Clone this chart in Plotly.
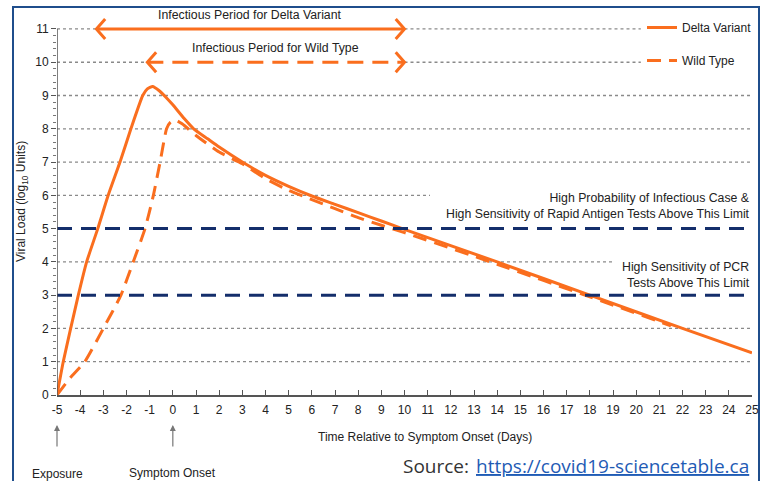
import plotly.graph_objects as go

# ---------------- data ----------------
delta_days = [-5, -4.73, -4.41, -4.08, -3.72, -3.24, -2.79, -2.28, -1.81, -1.30, -1.1, -0.87,
              -0.6, -0.3, 0, 0.5, 0.9, 1.5, 2, 3, 4, 5, 6, 7, 8, 9, 9.9, 14, 18, 22, 25]
delta_load = [0, 1, 2, 3, 4, 5, 6, 7, 8, 9, 9.2, 9.27,
              9.15, 8.95, 8.72, 8.3, 8.0, 7.7, 7.45, 7.0, 6.6, 6.27, 5.98, 5.73, 5.48, 5.23, 5.0,
              4.0, 3.0, 2.0, 1.27]

wild_days = [-5, -4.44, -3.8, -3.0, -2.24, -1.71, -1.2, -0.84, -0.55, -0.27, -0.1, 0.09, 0.4,
             1, 2, 3, 4, 5, 6, 7, 8, 9, 10, 14, 18, 21.5]
wild_load = [0, 0.51, 1, 2, 3, 4, 5, 6, 7, 8, 8.2, 8.27, 8.15,
             7.8, 7.3, 6.95, 6.5, 6.15, 5.87, 5.6, 5.33, 5.1, 4.88, 3.93, 2.95, 2.08]

delta_period = [-3.3, 10]   # infectious period (days), drawn at level 11
wild_period = [-1.1, 10]    # infectious period (days), drawn at level 10
period_levels = [11, 10]

thresholds = [5, 3]
threshold_labels = ["High Probability of Infectious Case &<br>High Sensitivity of Rapid Antigen Tests Above This Limit",
                    "High Sensitivity of PCR<br>Tests Above This Limit"]

x_ticks = list(range(-5, 26))
y_ticks = list(range(0, 12))

# ---------------- style ----------------
ORANGE = "#FA6E1E"
NAVY = "#142E6B"
GRID = "#8A8A8A"
AXIS = "#555555"
TXT = "#222222"
FONT = "Liberation Sans, Arial, sans-serif"
FS = 12.3

W, H = 767, 481
ML, MR, MT, MB = 57, 15, 9, 86
PW, PH = W - ML - MR, H - MT - MB


def px_x(p):
    return (p - ML) / PW


def px_y(p):
    return (H - MB - p) / PH


fig = go.Figure()

fig.add_trace(go.Scatter(x=delta_days, y=delta_load, mode="lines", name="Delta Variant",
                         line=dict(color=ORANGE, width=3, shape="spline", smoothing=0.5),
                         legendgroup="a", hoverinfo="skip"))
fig.add_trace(go.Scatter(x=wild_days, y=wild_load, mode="lines", name="Wild Type",
                         line=dict(color=ORANGE, width=3, dash="14px,8px", shape="spline", smoothing=0.5),
                         legendgroup="b", hoverinfo="skip"))

# infectious period arrows
head_len, head_h = 0.38, 0.3
for per, lvl, dash in [(delta_period, period_levels[0], "solid"), (wild_period, period_levels[1], "16px,9px")]:
    fig.add_trace(go.Scatter(x=per, y=[lvl, lvl], mode="lines", showlegend=False, hoverinfo="skip",
                             line=dict(color=ORANGE, width=3, dash=dash)))
    fig.add_trace(go.Scatter(x=[per[0] + head_len, per[0], per[0] + head_len],
                             y=[lvl + head_h, lvl, lvl - head_h], mode="lines", showlegend=False,
                             hoverinfo="skip", line=dict(color=ORANGE, width=3)))
    fig.add_trace(go.Scatter(x=[per[1] - head_len, per[1], per[1] - head_len],
                             y=[lvl + head_h, lvl, lvl - head_h], mode="lines", showlegend=False,
                             hoverinfo="skip", line=dict(color=ORANGE, width=3)))

shapes = []
# dotted grid lines of varying extent
grid_specs = [(11, [(-5, delta_period[0]), (delta_period[1], 20.2)]),
              (10, [(-5, wild_period[0]), (wild_period[1], 20.2)]),
              (9, [(-5, 25)]), (8, [(-5, 25)]), (7, [(-5, 25)]),
              (6, [(-5, 11.1)]), (4, [(-5, 19.0)]), (2, [(-5, 25)]), (1, [(-5, 25)])]
for lvl, segs in grid_specs:
    for a, b in segs:
        shapes.append(dict(type="line", xref="x", yref="y", x0=a, x1=b, y0=lvl, y1=lvl, layer="below",
                           line=dict(color=GRID, width=1.3, dash="3px,3px")))
# threshold lines
for t in thresholds:
    shapes.append(dict(type="line", xref="x", yref="y", x0=-5, x1=25, y0=t, y1=t, layer="above",
                       line=dict(color=NAVY, width=3, dash="15px,9px")))
# y axis line
shapes.append(dict(type="line", xref="x", yref="y", x0=-5, x1=-5, y0=0, y1=11,
                   line=dict(color=AXIS, width=1.5)))
# outer border
shapes.append(dict(type="rect", xref="paper", yref="paper", x0=px_x(13), x1=px_x(759),
                   y0=px_y(520), y1=px_y(7), line=dict(color="#1F4E8C", width=2)))

annotations = []
annotations.append(dict(x=sum(delta_period) / 2, y=11.42, xref="x", yref="y", showarrow=False,
                        text="Infectious Period for Delta Variant", font=dict(size=FS, color=TXT, family=FONT)))
annotations.append(dict(x=sum(wild_period) / 2, y=10.42, xref="x", yref="y", showarrow=False,
                        text="Infectious Period for Wild Type", font=dict(size=FS, color=TXT, family=FONT)))
for t, lab, yy in zip(thresholds, threshold_labels, [5.68, 3.61]):
    annotations.append(dict(x=25, y=yy, xref="x", yref="y", showarrow=False, xanchor="right",
                            align="right", text=lab, font=dict(size=FS, color=TXT, family=FONT)))
annotations.append(dict(x=px_x(22), y=0.5, xref="paper", yref="paper", showarrow=False, textangle=-90,
                        xanchor="center", yanchor="middle",
                        text="Viral Load (log<sub>10</sub> Units)", font=dict(size=12, color=TXT, family=FONT)))
annotations.append(dict(x=px_x(425), y=px_y(437), xref="paper", yref="paper", showarrow=False,
                        xanchor="center", yanchor="middle",
                        text="Time Relative to Symptom Onset (Days)", font=dict(size=12, color=TXT, family=FONT)))
for xd, lab, ty in [(-5, "Exposure", 474), (0, "Symptom Onset", 473)]:
    annotations.append(dict(x=xd, y=px_y(425), xref="x", yref="paper", text="", showarrow=True,
                            ax=0, ay=23, arrowhead=2, arrowsize=1, arrowwidth=1.2, arrowcolor="#777777"))
    annotations.append(dict(x=xd, y=px_y(ty), xref="x", yref="paper", showarrow=False, text=lab,
                            xanchor="center", yanchor="middle",
                            font=dict(size=12, color=TXT, family=FONT)))
annotations.append(dict(x=px_x(471), y=px_y(466), xref="paper", yref="paper", showarrow=False,
                        xanchor="right", yanchor="middle", text="Source:",
                        font=dict(size=19, color="#333333", family="Open Sans, sans-serif")))
annotations.append(dict(x=px_x(751), y=px_y(466), xref="paper", yref="paper", showarrow=False,
                        xanchor="right", yanchor="middle", text="https://covid19-sciencetable.ca",
                        font=dict(size=19, color="#1F5BB5", family="Open Sans, sans-serif",
                                  lineposition="under")))

fig.update_layout(
    width=W, height=H, margin=dict(l=ML, r=MR, t=MT, b=MB),
    paper_bgcolor="white", plot_bgcolor="white",
    shapes=shapes, annotations=annotations,
    showlegend=True,
    legend=dict(x=px_x(642), y=px_y(13), xanchor="left", yanchor="top", bgcolor="rgba(0,0,0,0)",
                font=dict(size=12, color=TXT, family=FONT), tracegroupgap=14, traceorder="grouped",
                itemwidth=30),
    xaxis=dict(range=[-5, 25], tickvals=x_ticks, ticktext=[str(v) for v in x_ticks], showgrid=False,
               zeroline=False, showline=True, linecolor=AXIS, linewidth=1.5, ticks="inside", ticklen=5,
               tickcolor=AXIS, tickfont=dict(size=12, color=TXT, family=FONT), ticklabelstandoff=3,
               automargin=False),
    yaxis=dict(range=[0, 11.6], tickvals=y_ticks, ticktext=[str(v) for v in y_ticks], showgrid=False,
               zeroline=False, showline=False, ticks="outside", ticklen=5, tickcolor=AXIS,
               tickfont=dict(size=12, color=TXT, family=FONT), automargin=False,
               minor=dict(tickvals=[i / 5 for i in range(0, 56)], ticks="outside", ticklen=3,
                          tickcolor="#777777")),
)

fig.write_html("out.html", config={"displayModeBar": False},
               post_script="document.body.style.margin='0';")
